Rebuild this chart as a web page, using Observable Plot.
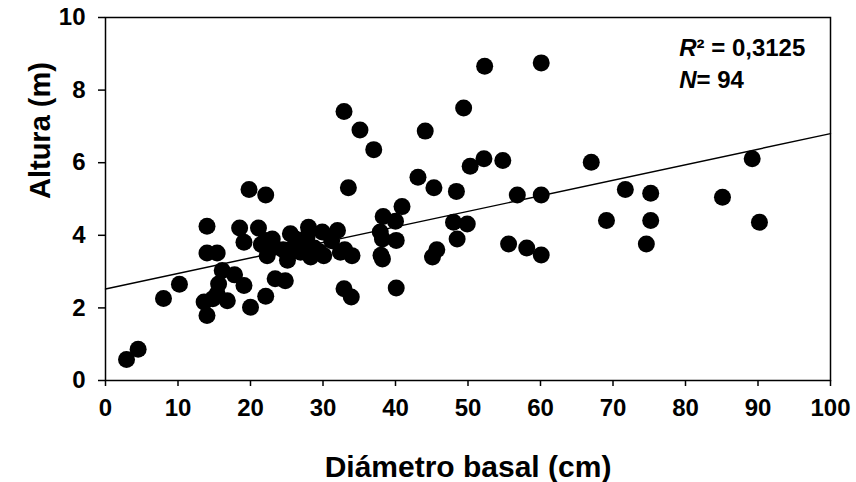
<!DOCTYPE html>
<html>
<head>
<meta charset="utf-8">
<script src="https://cdn.jsdelivr.net/npm/d3@7"></script>
<script src="https://cdn.jsdelivr.net/npm/@observablehq/plot@0.6"></script>
<style>
  html, body { margin: 0; padding: 0; background: #fff; }
  #chart { width: 856px; height: 482px; }
</style>
</head>
<body>
<div id="chart"></div>
<script>
// Diámetro basal (cm)
const diametro = [
  2.9, 4.5, 8.0, 10.2, 13.6, 14.0, 14.0, 14.0, 15.4, 15.4,
  16.1, 15.6, 16.8, 17.8, 18.5, 19.1, 19.1, 19.8, 20.0, 21.1,
  22.1, 22.1, 22.5, 22.3, 22.1, 23.4, 24.8, 23.2, 25.5, 25.1,
  25.1, 28.0, 29.9, 32.0, 27.4, 28.3, 30.1, 32.4, 34.0, 26.9,
  32.9, 33.9, 32.9, 35.1, 37.0, 33.5, 40.9, 38.3, 40.0, 37.9,
  38.2, 40.1, 38.2, 38.0, 40.1, 44.1, 43.1, 45.3, 48.4, 48.0,
  49.9, 48.5, 45.7, 45.1, 52.3, 60.1, 49.4, 52.2, 50.3, 54.8,
  56.8, 60.1, 55.6, 58.1, 60.1, 67.0, 89.2, 71.7, 75.2, 85.1,
  69.1, 75.2, 90.2, 74.6, 27.8, 28.8, 31.2, 26.2, 23.0, 14.8,
  21.5, 33.0, 24.5, 29.5
];
// Altura (m)
const altura = [
  0.58, 0.86, 2.26, 2.65, 2.16, 1.79, 4.25, 3.51, 3.51, 2.39,
  3.03, 2.66, 2.20, 2.91, 4.20, 3.81, 2.62, 5.26, 2.02, 4.20,
  5.11, 3.86, 3.63, 3.44, 2.32, 2.80, 2.75, 3.67, 4.04, 3.58,
  3.31, 4.22, 4.09, 4.13, 3.86, 3.40, 3.44, 3.53, 3.44, 3.53,
  2.53, 2.30, 7.41, 6.90, 6.36, 5.31, 4.79, 4.52, 4.39, 4.09,
  3.90, 3.86, 3.35, 3.45, 2.55, 6.87, 5.60, 5.31, 5.21, 4.36,
  4.31, 3.90, 3.60, 3.40, 8.66, 8.75, 7.51, 6.11, 5.90, 6.06,
  5.11, 5.11, 3.76, 3.65, 3.46, 6.01, 6.11, 5.26, 5.16, 5.05,
  4.41, 4.41, 4.36, 3.76, 3.95, 3.65, 3.85, 3.90, 3.90, 2.25,
  3.75, 3.60, 3.60, 3.55
];
// Fitted regression line end points
const fitX = [0, 100];
const fitY = [2.52, 6.80];

const xTicks = [0, 10, 20, 30, 40, 50, 60, 70, 80, 90, 100];
const yTicks = [0, 2, 4, 6, 8, 10];
const xTitle = "Diámetro basal (cm)";
const yTitle = "Altura (m)";
const r2Label = "0,3125";
const nLabel = "94";

const points = diametro.map((d, i) => ({x: d, y: altura[i]}));
const fit = fitX.map((d, i) => ({x: d, y: fitY[i]}));

const font = "'Liberation Sans', Arial, sans-serif";

const plot = Plot.plot({
  width: 856,
  height: 482,
  marginLeft: 105,
  marginRight: 26,
  marginTop: 17,
  marginBottom: 102,
  style: {fontFamily: font, fontWeight: "bold", color: "#000", background: "#fff"},
  x: {domain: [0, 100]},
  y: {domain: [0, 10]},
  marks: [
    Plot.frame({stroke: "#000", strokeWidth: 1.5}),
    Plot.axisX({ticks: xTicks, tickSize: 6, tickPadding: 12, fontSize: 24, fontWeight: "bold", strokeWidth: 1.5, label: null, tickFormat: d => String(d)}),
    Plot.axisY({ticks: yTicks, tickSize: 7, tickPadding: 13, fontSize: 24, fontWeight: "bold", strokeWidth: 1.5, label: null, tickFormat: d => String(d)}),
    Plot.line(fit, {x: "x", y: "y", stroke: "#000", strokeWidth: 1.4}),
    Plot.dot(points, {x: "x", y: "y", r: 8.5, fill: "#000", stroke: "none"}),
    Plot.text([xTitle], {frameAnchor: "bottom", dy: 96, lineAnchor: "bottom", text: d => d, fontSize: 30, fontWeight: "bold"}),
    Plot.text([yTitle], {frameAnchor: "left", dx: -65, rotate: -90, text: d => d, fontSize: 29, fontWeight: "bold", lineAnchor: "middle"})
  ]
});

const svg = d3.select(plot);
const sx = plot.scale("x"), sy = plot.scale("y");
const ann = svg.append("g")
  .attr("font-family", font)
  .attr("font-weight", "bold")
  .attr("font-size", 24)
  .attr("text-anchor", "start")
  .attr("fill", "#000");
const t1 = ann.append("text").attr("x", sx.apply(79.2)).attr("y", sy.apply(8.92));
t1.append("tspan").attr("font-style", "italic").text("R");
t1.append("tspan").text("² = " + r2Label);
const t2 = ann.append("text").attr("x", sx.apply(79.2)).attr("y", sy.apply(8.05));
t2.append("tspan").attr("font-style", "italic").text("N");
t2.append("tspan").text("= " + nLabel);

document.getElementById("chart").appendChild(plot);
</script>
</body>
</html>
